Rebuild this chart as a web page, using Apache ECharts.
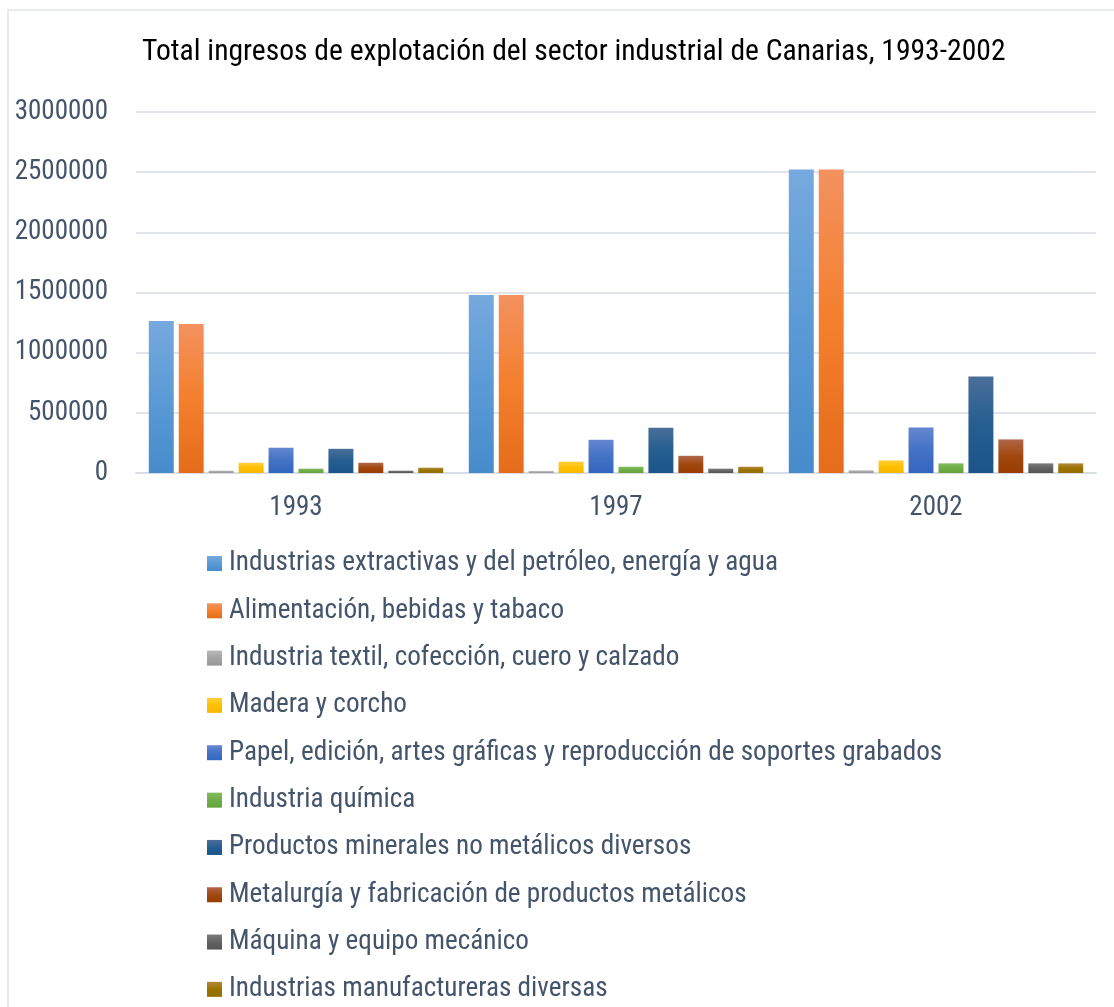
<!DOCTYPE html>
<html>
<head>
<meta charset="utf-8">
<script src="https://cdn.jsdelivr.net/npm/echarts@6/dist/echarts.min.js"></script>
<style>
html,body{margin:0;padding:0;background:#fff;}
#chart{width:1114px;height:1007px;}
</style>
</head>
<body>
<div id="chart"></div>
<script>
const titleText = 'Total ingresos de explotación del sector industrial de Canarias, 1993-2002';
const categories = ['1993', '1997', '2002'];
const seriesNames = [
  'Industrias extractivas y del petróleo, energía y agua',
  'Alimentación, bebidas y tabaco',
  'Industria textil, cofección, cuero y calzado',
  'Madera y corcho',
  'Papel, edición, artes gráficas y reproducción de soportes grabados',
  'Industria química',
  'Productos minerales no metálicos diversos',
  'Metalurgía y fabricación de productos metálicos',
  'Máquina y equipo mecánico',
  'Industrias manufactureras diversas'
];
const extractivas = [1263000, 1480000, 2523000];
const alimentacion = [1238000, 1480000, 2523000];
const textil = [19000, 16000, 22000];
const madera = [85000, 94000, 105000];
const papel = [210000, 276000, 379000];
const quimica = [36000, 52000, 80000];
const minerales = [201000, 376000, 802000];
const metalurgia = [85000, 143000, 279000];
const maquina = [19000, 36000, 80000];
const manufactureras = [44000, 52000, 80000];
const yTicks = [0, 500000, 1000000, 1500000, 2000000, 2500000, 3000000];

const seriesData = [extractivas, alimentacion, textil, madera, papel, quimica, minerales, metalurgia, maquina, manufactureras];
const colorStops = [
  ['#76a9de', '#5b9bd5', '#468bcb'],
  ['#f39160', '#f47f2c', '#e46c1a'],
  ['#b8b8b8', '#a5a5a5', '#979797'],
  ['#ffce3c', '#ffc000', '#f5b800'],
  ['#6587d2', '#4472c4', '#3366c0'],
  ['#82bb5c', '#70ad47', '#65a33c'],
  ['#4a6e98', '#255e91', '#1a5489'],
  ['#b0664a', '#a0480e', '#9a3c00'],
  ['#7a7a7a', '#636363', '#555555'],
  ['#b08a3a', '#997300', '#946e00']
];

const FONT = "'Liberation Sans Narrow', 'Arial Narrow', 'Roboto Condensed', sans-serif";
const legendStep = 47.33;
const legendTop = 549.5;
function makeLegend(names, top) {
  return {
    orient: 'vertical',
    left: 207,
    top: top,
    padding: 0,
    itemWidth: 15,
    itemHeight: 15,
    itemGap: 19.3,
    icon: 'rect',
    textStyle: { fontFamily: FONT, fontSize: 27.2, color: '#44546a', lineHeight: 28, padding: [0, 0, 0, 2] },
    data: names
  };
}
const chart = echarts.init(document.getElementById('chart'));
chart.setOption({
  backgroundColor: '#fff',
  animation: false,
  textStyle: { fontFamily: FONT },
  title: {
    text: titleText,
    left: 137,
    top: 33,
    textStyle: { fontFamily: FONT, fontSize: 29.6, fontWeight: 'normal', color: '#000' }
  },
  graphic: [{
    type: 'rect',
    shape: { x: 8, y: 10, width: 1200, height: 1100 },
    style: { fill: 'none', stroke: '#dfe3e9', lineWidth: 1.5 },
    silent: true
  }],
  grid: { left: 136, right: 18, top: 112, bottom: 534, containLabel: false },
  xAxis: {
    type: 'category',
    data: categories,
    axisTick: { show: false },
    axisLine: { lineStyle: { color: '#d9dee5', width: 2 } },
    axisLabel: { fontFamily: FONT, fontSize: 27, color: '#44546a', margin: 22 }
  },
  yAxis: {
    type: 'value',
    min: 0,
    max: 3000000,
    interval: 500000,
    axisLine: { show: false },
    axisTick: { show: false },
    splitLine: { lineStyle: { color: '#e1e5eb', width: 2 } },
    axisLabel: {
      fontFamily: FONT, fontSize: 27, color: '#44546a', margin: 28,
      formatter: v => (yTicks.indexOf(v) >= 0 ? String(v) : '')
    }
  },
  legend: [
    makeLegend(seriesNames.slice(0, 5), legendTop),
    makeLegend(seriesNames.slice(5), legendTop + 5 * legendStep)
  ],
  series: seriesNames.map((name, i) => ({
    name: name,
    type: 'bar',
    data: seriesData[i],
    barGap: '20%',
    barCategoryGap: '8%',
    itemStyle: {
      color: new echarts.graphic.LinearGradient(0, 0, 0, 1, [
        { offset: 0, color: colorStops[i][0] },
        { offset: 0.5, color: colorStops[i][1] },
        { offset: 1, color: colorStops[i][2] }
      ])
    }
  }))
});
</script>
</body>
</html>
